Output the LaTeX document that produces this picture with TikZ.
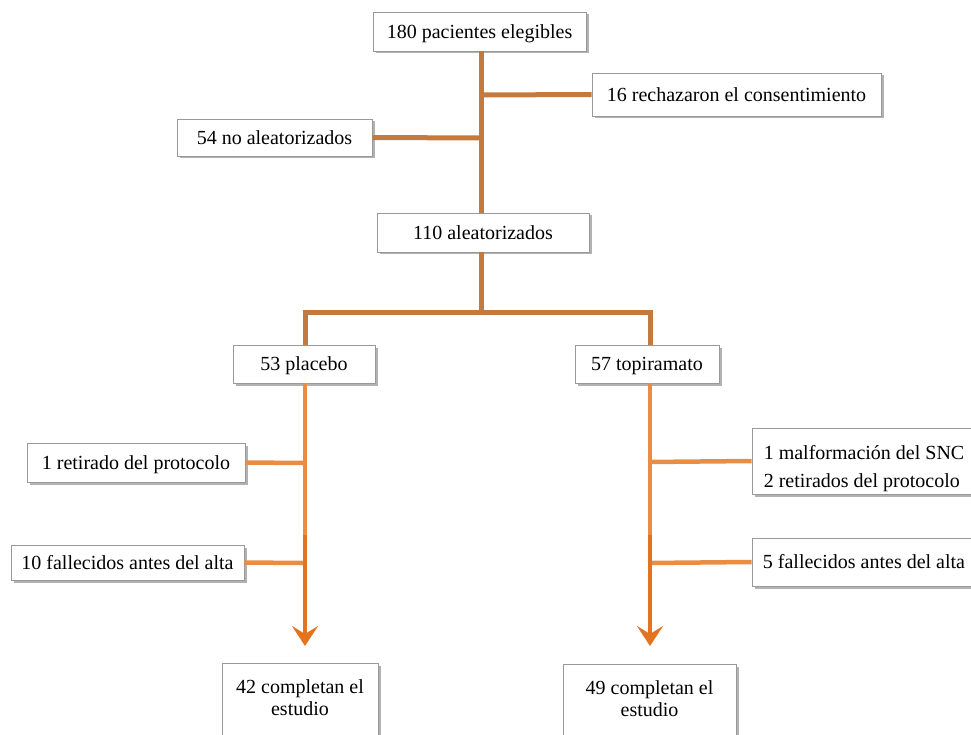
\documentclass[tikz,border=0pt]{standalone}
\usepackage{fontspec}
\setmainfont{Liberation Serif}
\usetikzlibrary{shadows,arrows.meta}
\definecolor{brownline}{HTML}{C47A3E}
\definecolor{oraline}{HTML}{E98D45}
\definecolor{oradark}{HTML}{E4731F}
\tikzset{
  box/.style={draw=black!40, line width=0.8pt, fill=white, inner sep=0pt,
    drop shadow={shadow xshift=2.5pt, shadow yshift=-2.5pt, opacity=0.5, fill=black!60},
    font=\fontsize{20}{22}\selectfont, align=center},
  oneline/.style={text height=17.5pt, text depth=4pt},
  topline/.style={draw=brownline, line width=5pt},
  lowline/.style={draw=oraline, line width=4.5pt},
  arrowline/.style={draw=oradark, line width=4pt, -{Stealth[length=20pt, width=26pt, inset=8pt]}}
}
\begin{document}
\begin{tikzpicture}[x=1pt,y=-1pt]
\useasboundingbox (0,0) rectangle (971,735);
\clip (0,0) rectangle (971,735);
% nodes
\node[box, oneline, minimum width=213, minimum height=39] (top) at (479.5,31.5) {180 pacientes elegibles};
\node[box, oneline, minimum width=289, minimum height=43] (rech) at (736.5,94.5) {16 rechazaron el consentimiento};
\node[box, oneline, minimum width=195, minimum height=37] (noal) at (274.5,137.5) {54 no aleatorizados};
\node[box, oneline, minimum width=212, minimum height=39] (ale) at (483,232.5) {110 aleatorizados};
% connectors top part
\draw[topline] (top.south -| 481,0) -- (ale.north -| 481,0);
\draw[topline] (481,95) -- (rech.west);
\draw[topline] (481,138) -- (noal.east);
\coordinate (split) at (481,312);
\draw[topline] (ale.south -| split) -- (split);
\coordinate (pl) at (305,312);
\coordinate (tp) at (650,312);
\draw[topline, line join=miter] (305,345) -- (pl) -- (tp) -- (650,345);
\node[box, oneline, minimum width=142, minimum height=38] (plac) at (304,364) {53 placebo};
\node[box, oneline, minimum width=144, minimum height=38] (topi) at (647,364) {57 topiramato};
% lower side boxes
\node[box, oneline, minimum width=218, minimum height=39] (ret1) at (136,462.5) {1 retirado del protocolo};
\node[box, oneline, minimum width=233, minimum height=35] (fal10) at (127.5,562.5) {10 fallecidos antes del alta};
\node[box, minimum width=224, minimum height=66] (malf) at (864,461) {\raisebox{-8pt}[\height][\depth]{\begin{tabular}{@{}l@{}}1 malformación del SNC\\[6pt]2 retirados del protocolo\end{tabular}}};
\node[box, oneline, minimum width=224, minimum height=48] (fal5) at (864,562) {5 fallecidos antes del alta};
\node[box, minimum width=156, minimum height=90, anchor=north] (c42) at (300,663) {42 completan el\\estudio\\\rule{0pt}{8pt}};
\node[box, minimum width=173, minimum height=90, anchor=north] (c49) at (649.5,664) {49 completan el\\estudio\\\rule{0pt}{8pt}};
% placebo branch
\draw[lowline] (plac.south -| 305,0) -- (305,565);
\draw[lowline] (303,463) -- (ret1.east);
\draw[lowline] (303,563) -- (fal10.east);
\draw[arrowline] (305,535) -- (305,646);
% topiramato branch
\draw[lowline] (topi.south -| 650,0) -- (650,565);
\draw[lowline] (648,462) -- (malf.west);
\draw[lowline] (648,563) -- (fal5.west);
\draw[arrowline] (650,535) -- (650,646);
\end{tikzpicture}
\end{document}
